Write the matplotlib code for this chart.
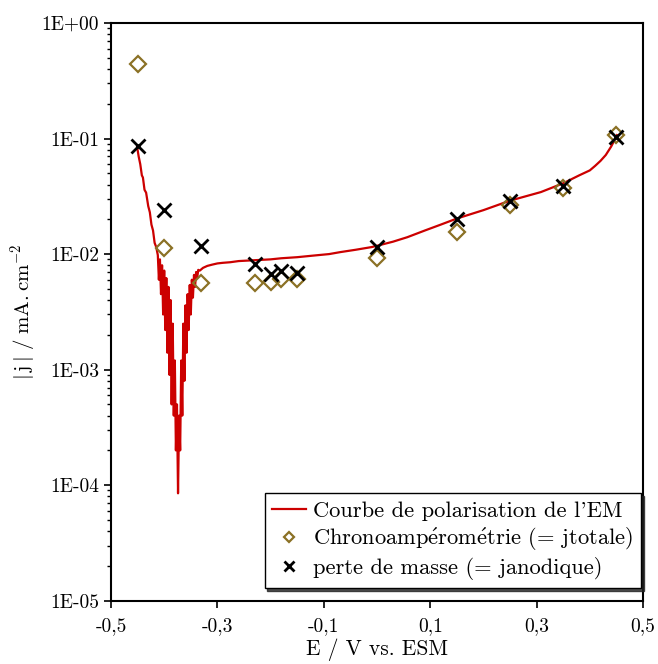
import numpy as np
import matplotlib.pyplot as plt

plt.rcParams['font.family'] = ['cmr10', 'DejaVu Serif']
plt.rcParams['mathtext.fontset'] = 'cm'

# Courbe de polarisation (E en V vs. ESM, |j| en mA.cm-2)
E_curve = [-0.451, -0.448, -0.445, -0.442, -0.440, -0.437, -0.434, -0.430, -0.427,
           -0.424, -0.421, -0.418, -0.415,
           -0.412, -0.410, -0.408, -0.406, -0.404, -0.402, -0.400, -0.398, -0.396,
           -0.394, -0.392, -0.390, -0.388, -0.386, -0.384, -0.382, -0.380, -0.378,
           -0.376, -0.374, -0.372, -0.370, -0.368, -0.366, -0.364, -0.362, -0.360,
           -0.358, -0.356, -0.354, -0.352, -0.350, -0.348, -0.346, -0.344, -0.342,
           -0.340, -0.338, -0.336,
           -0.333, -0.327, -0.319, -0.310, -0.300, -0.290, -0.276, -0.260, -0.240,
           -0.220, -0.200, -0.180, -0.150, -0.120, -0.090, -0.069, -0.040, -0.010,
           0.000, 0.030, 0.057, 0.090, 0.120, 0.150, 0.200, 0.250, 0.308, 0.350,
           0.380, 0.400, 0.410, 0.420, 0.430, 0.440, 0.447, 0.451]
j_curve = [0.085, 0.070, 0.060, 0.048, 0.046, 0.036, 0.034, 0.026, 0.023,
           0.018, 0.016, 0.0125, 0.0115,
           0.0098, 0.0060, 0.0090, 0.0045, 0.0080, 0.0030, 0.0072, 0.0022, 0.0062,
           0.0014, 0.0052, 0.0009, 0.0040, 0.0005, 0.0025, 0.0004, 0.0012, 0.0002,
           0.0005, 0.000085, 0.0004, 0.0002, 0.0012, 0.0004, 0.0025, 0.0008, 0.0036,
           0.0014, 0.0045, 0.0022, 0.0054, 0.0030, 0.0060, 0.0042, 0.0066, 0.0052,
           0.0070, 0.0062, 0.0073,
           0.0072, 0.0076, 0.0079, 0.0081, 0.0083, 0.0084, 0.0085, 0.0087, 0.0088,
           0.0089, 0.0090, 0.0092, 0.0094, 0.0097, 0.0100, 0.0104, 0.0109, 0.0115,
           0.0118, 0.0128, 0.0140, 0.0160, 0.0180, 0.0203, 0.0240, 0.0290, 0.0344, 0.0410,
           0.0480, 0.0530, 0.0580, 0.0640, 0.0720, 0.0850, 0.0980, 0.1070]

# Chronoamperometrie (= jtotale)
E_chrono = [-0.45, -0.40, -0.33, -0.23, -0.20, -0.18, -0.15, 0.00, 0.15, 0.25, 0.35, 0.45]
j_chrono = [0.44, 0.0113, 0.0056, 0.0056, 0.0057, 0.0061, 0.0061, 0.0092, 0.0155, 0.0265, 0.0373, 0.107]

# Perte de masse (= janodique)
E_masse = [-0.45, -0.40, -0.33, -0.23, -0.20, -0.18, -0.15, 0.00, 0.15, 0.25, 0.35, 0.45]
j_masse = [0.086, 0.024, 0.0117, 0.0082, 0.0067, 0.0071, 0.0068, 0.0115, 0.0201, 0.0288, 0.0388, 0.103]

x_ticks = [-0.5, -0.3, -0.1, 0.1, 0.3, 0.5]
x_labels = ['-0,5', '-0,3', '-0,1', '0,1', '0,3', '0,5']
y_ticks = [1e-5, 1e-4, 1e-3, 1e-2, 1e-1, 1e0]
y_labels = ['1E-05', '1E-04', '1E-03', '1E-02', '1E-01', '1E+00']

fig = plt.figure(figsize=(6.58, 6.64), dpi=100)
ax = fig.add_axes([111 / 658, 1 - 600.7 / 664, 532 / 658, 577.7 / 664])

ax.plot(E_curve, j_curve, color='#cc0000', lw=1.6, label="Courbe de polarisation de l'EM", zorder=2)
ax.plot(E_chrono, j_chrono, ls='none', marker='D', ms=8, mfc='none', mec='#8b7125', mew=1.6,
        label=r'Chronoamp$\mathrm{\acute{e}}$rom$\mathrm{\acute{e}}$trie (= jtotale)', zorder=3)
ax.plot(E_masse, j_masse, ls='none', marker='x', ms=10, mec='black', mew=2.0,
        label='perte de masse (= janodique)', zorder=4)

ax.set_yscale('log')
ax.set_xlim(-0.5, 0.5)
ax.set_ylim(1e-5, 1e0)
ax.set_xticks(x_ticks, x_labels)
ax.set_yticks(y_ticks, y_labels)
ax.tick_params(axis='both', which='major', direction='out', length=5, width=1.2, labelsize=14)
ax.tick_params(axis='x', which='major', pad=7)
ax.tick_params(axis='y', which='minor', direction='out', length=3, width=1.0)
for s in ax.spines.values():
    s.set_linewidth(1.5)

ax.set_xlabel('E / V vs. ESM', fontsize=15.5, labelpad=2)
ax.set_ylabel(r'$|\,\mathrm{j}\,|\ /\ \mathrm{mA.cm^{-2}}$', fontsize=15, labelpad=3)

leg = ax.legend(loc='lower right', bbox_to_anchor=(0.996, 0.022), borderaxespad=0,
                fontsize=16.2, frameon=True, fancybox=False, edgecolor='black',
                handlelength=1.5, handletextpad=0.3, markerscale=0.65, borderpad=0.35,
                labelspacing=0.2, shadow={'color': '#222222', 'alpha': 0.8})
leg.get_frame().set_linewidth(1.0)

fig.savefig('out.png', dpi=100)
